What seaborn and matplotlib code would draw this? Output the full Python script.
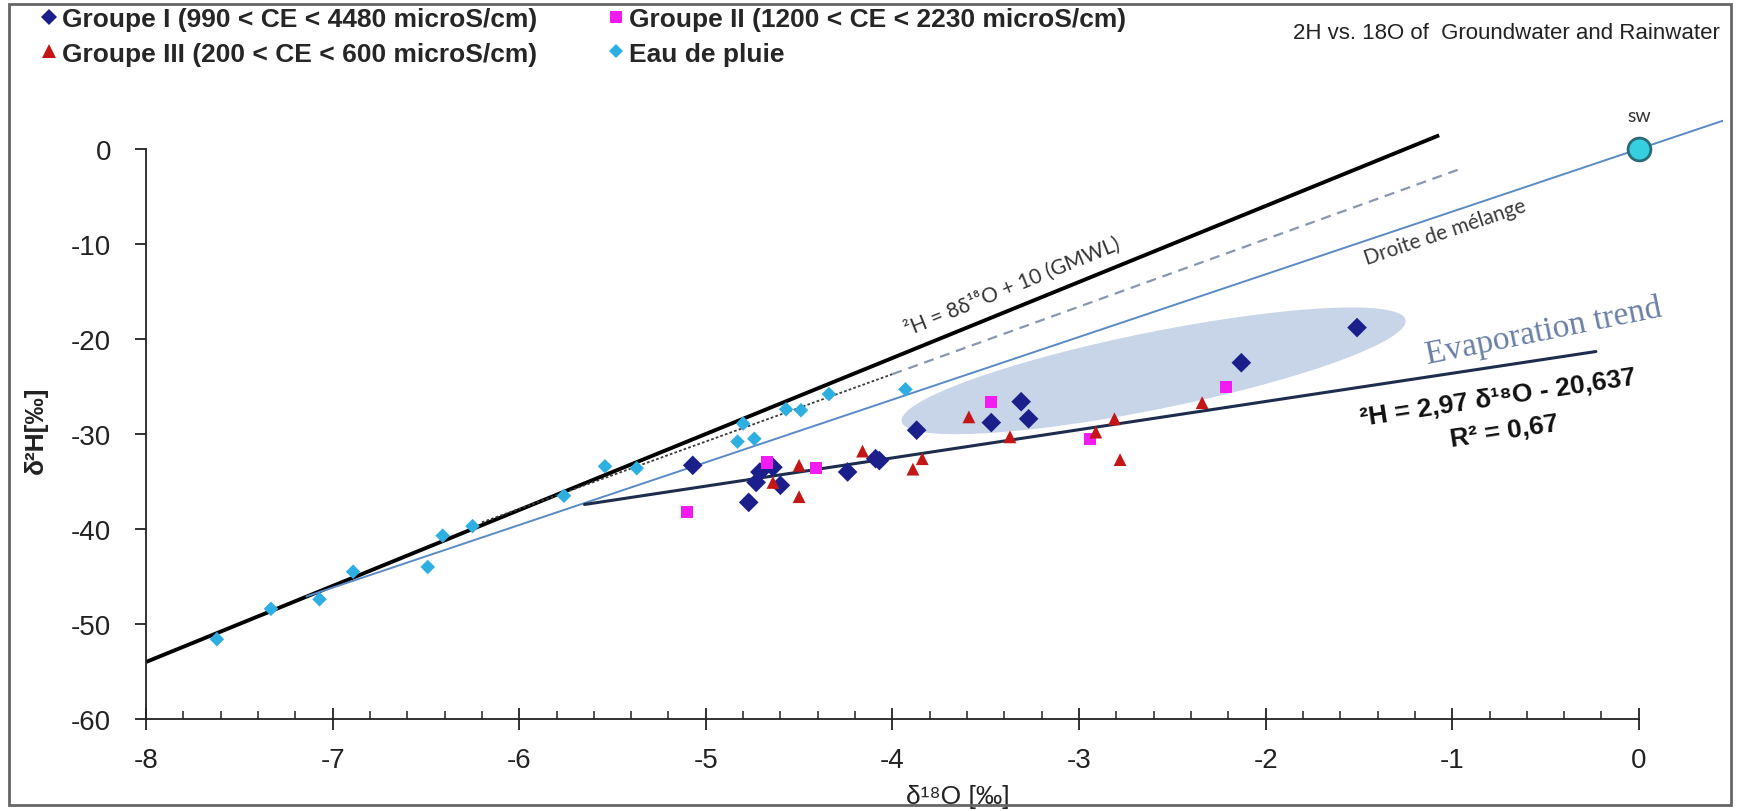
import numpy as np
import pandas as pd
import matplotlib
matplotlib.use("Agg")
import matplotlib.pyplot as plt
import seaborn as sns
from matplotlib import font_manager
from matplotlib.lines import Line2D
from matplotlib.patches import Polygon, Rectangle

# --- data (d18O, d2H in permil) ---
g1_x = [-5.07, -4.77, -4.73, -4.71, -4.64, -4.60, -4.24, -4.09, -4.07, -3.87, -3.47, -3.31, -3.27, -2.13, -1.51]
g1_y = [-33.3, -37.2, -35.1, -34.0, -33.5, -35.4, -34.0, -32.6, -32.8, -29.6, -28.8, -26.6, -28.4, -22.5, -18.8]

g2_x = [-5.10, -4.67, -4.41, -3.47, -2.94, -2.21]
g2_y = [-38.2, -33.0, -33.6, -26.6, -30.5, -25.1]

g3_x = [-4.64, -4.50, -4.50, -4.16, -3.89, -3.84, -3.59, -3.37, -2.91, -2.81, -2.78, -2.34]
g3_y = [-35.1, -33.3, -36.6, -31.8, -33.7, -32.6, -28.2, -30.3, -29.8, -28.4, -32.7, -26.7]

rain_x = [-7.62, -7.33, -7.07, -6.89, -6.49, -6.41, -6.25, -5.76, -5.54, -5.37,
          -4.83, -4.74, -4.80, -4.57, -4.49, -4.34, -3.93]
rain_y = [-51.6, -48.4, -47.4, -44.5, -44.0, -40.7, -39.7, -36.5, -33.4, -33.6,
          -30.8, -30.5, -28.9, -27.4, -27.5, -25.8, -25.3]

sw_x = [0.0]
sw_y = [0.0]

# reference lines (end points)
gmwl_x = [-8.0, -1.07]
gmwl_y = [-54.0, 1.44]
lmwl_dot_x = [-6.2, -4.0]
lmwl_dot_y = [-39.3, -23.7]
lmwl_dash_x = [-4.0, -0.95]
lmwl_dash_y = [-23.7, -2.05]
mix_x = [-7.14, 0.45]
mix_y = [-47.1, 2.97]
reg_x = [-5.65, -0.23]
reg_y = [-37.42, -21.32]
evap_zone_x = [-3.95, -1.25]
evap_zone_y = [-28.7, -18.0]

labels = {
    "g1": "Groupe I (990 < CE < 4480 microS/cm)",
    "g2": "Groupe II (1200 < CE < 2230 microS/cm)",
    "g3": "Groupe III (200 < CE < 600 microS/cm)",
    "rain": "Eau de pluie",
}

df = pd.concat([
    pd.DataFrame({"d18O": g1_x, "d2H": g1_y, "groupe": "g1"}),
    pd.DataFrame({"d18O": g2_x, "d2H": g2_y, "groupe": "g2"}),
    pd.DataFrame({"d18O": g3_x, "d2H": g3_y, "groupe": "g3"}),
    pd.DataFrame({"d18O": rain_x, "d2H": rain_y, "groupe": "rain"}),
], ignore_index=True)

colors = {"g1": "#1B1F8C", "g2": "#F21CF2", "g3": "#C41616", "rain": "#2DAFE2"}
markers = {"g1": "D", "g2": "s", "g3": "^", "rain": "D"}
sizes = {"g1": 100, "g2": 75, "g3": 85, "rain": 55}

sns.set_style("ticks")
plt.rcParams["font.family"] = ["Liberation Sans", "DejaVu Sans"]
plt.rcParams["axes.unicode_minus"] = False

names = {f.name for f in font_manager.fontManager.ttflist}
if "Liberation Sans Narrow" in names:
    eq_font, eq_size = ["Liberation Sans Narrow", "DejaVu Sans"], 23
else:
    eq_font, eq_size = ["Liberation Sans", "DejaVu Sans"], 19
calib = ["Lato", "DejaVu Sans"] if "Lato" in names else ["DejaVu Sans"]

fig = plt.figure(figsize=(17.4, 8.12), dpi=100)
ax = fig.add_axes([0.0839, 0.1133, 0.9062, 0.7605])
ax.set_xlim(-8, 0.45)
ax.set_ylim(-60, 5)

def screen_angle(xs, ys):
    p = ax.transData.transform(np.column_stack([xs, ys]))
    d = p[1] - p[0]
    return np.degrees(np.arctan2(d[1], d[0]))

# evaporation zone (ellipse drawn in screen space)
p0, p1 = ax.transData.transform(np.column_stack([evap_zone_x, evap_zone_y]))
c = (p0 + p1) / 2
u = (p1 - p0) / 2
a = np.hypot(*u)
u = u / a
v = np.array([-u[1], u[0]])
t = np.linspace(0, 2 * np.pi, 200)
pts = c + np.outer(a * np.cos(t), u) + np.outer(0.15 * a * np.sin(t), v)
ax.add_patch(Polygon(ax.transData.inverted().transform(pts), closed=True,
                     facecolor="#C8D4E8", edgecolor="none", zorder=1))

# lines
ax.plot(gmwl_x, gmwl_y, color="black", lw=2.8, zorder=2, solid_capstyle="butt")
ax.plot(lmwl_dot_x, lmwl_dot_y, color="#3a3a3a", lw=1.3, ls=(0, (1.5, 1.2)), zorder=2)
ax.plot(lmwl_dash_x, lmwl_dash_y, color="#8797AE", lw=1.6, ls=(0, (4.5, 3.1)), zorder=2)
ax.plot(mix_x, mix_y, color="#5A8AC6", lw=1.4, zorder=2)
ax.plot(reg_x, reg_y, color="#1E2D4E", lw=2.2, zorder=2)

# points
for g in ["g1", "g2", "g3", "rain"]:
    sns.scatterplot(data=df[df["groupe"] == g], x="d18O", y="d2H", color=colors[g],
                    marker=markers[g], s=sizes[g], edgecolor="none", ax=ax,
                    legend=False, zorder=3)

sns.scatterplot(x=sw_x, y=sw_y, s=270, color="#36CFE0", edgecolor="#2B6A78",
                linewidth=2, ax=ax, legend=False, zorder=4)
ax.text(sw_x[0], 2.6, "sw", ha="center", va="bottom", fontsize=14,
        family=calib, color="#333333")

# annotations
ax.text(-3.36, -14.4, "²H = 8δ¹⁸O + 10 (GMWL)", ha="center", va="center",
        rotation=screen_angle(gmwl_x, gmwl_y), rotation_mode="anchor",
        fontsize=15, family=calib, color="#333333")
ax.text(-1.04, -8.7, "Droite de mélange", ha="center", va="center",
        rotation=screen_angle(mix_x, mix_y), rotation_mode="anchor",
        fontsize=15, family=calib, color="#3a3a3a")
ax.text(-0.51, -19.1, "Evaporation trend", ha="center", va="center",
        rotation=11.5, rotation_mode="anchor", fontsize=24,
        family=["Liberation Serif", "DejaVu Serif"], color="#6B80A6")
reg_angle = screen_angle(reg_x, reg_y)
ax.text(-0.755, -26.1, "²H = 2,97 δ¹⁸O - 20,637", ha="center", va="center",
        rotation=reg_angle, rotation_mode="anchor", fontsize=eq_size,
        family=eq_font, weight="bold", color="#111111")
ax.text(-0.72, -29.65, "R² = 0,67", ha="center", va="center",
        rotation=reg_angle, rotation_mode="anchor", fontsize=eq_size,
        family=eq_font, weight="bold", color="#111111")

# axes styling
sns.despine(ax=ax)
ax.spines["left"].set_bounds(-60, 0)
ax.spines["bottom"].set_bounds(-8, 0)
for s in ["left", "bottom"]:
    ax.spines[s].set_linewidth(1.3)
    ax.spines[s].set_color("#222222")
ax.set_xticks(np.arange(-8, 1, 1))
ax.set_xticks(np.arange(-8, 0.01, 0.2), minor=True)
ax.set_yticks(np.arange(-60, 1, 10))
ax.tick_params(axis="x", which="major", direction="inout", length=16, width=1.3,
               pad=12, labelsize=20, colors="#222222")
ax.tick_params(axis="x", which="minor", direction="in", length=5.8, width=1.1,
               colors="#222222")
ax.tick_params(axis="y", which="major", direction="out", length=8, width=1.3,
               pad=17, labelsize=20, colors="#222222")
ax.set_xlabel("δ¹⁸O [‰]", fontsize=19, va="center", color="#222222")
ax.xaxis.set_label_coords(0.515, -0.125)
ax.set_ylabel("δ²H[‰]", fontsize=19, weight="bold", va="center", color="#222222")
ax.yaxis.set_label_coords(-0.07, 0.47)

# legend + title
handles = [Line2D([], [], ls="none", marker=markers[g], color=colors[g],
                  markersize=ms, markeredgewidth=0)
           for g, ms in [("g1", 8), ("g3", 10), ("g2", 8), ("rain", 7)]]
fig.legend(handles, [labels["g1"], labels["g3"], labels["g2"], labels["rain"]],
           loc="upper left", bbox_to_anchor=(0.023, 0.99), ncol=2, frameon=False,
           prop=dict(family=["Liberation Sans", "DejaVu Sans"], weight="bold", size=19),
           handlelength=0.7, handletextpad=0.15, columnspacing=2.6,
           labelspacing=0.4, borderaxespad=0, borderpad=0)
fig.text(0.9885, 0.959, "2H vs. 18O of  Groundwater and Rainwater", ha="right",
         va="center", fontsize=16, color="#222222")

fig.patches.append(Rectangle((0.0052, 0.0074), 0.9896, 0.9864, transform=fig.transFigure,
                             fill=False, edgecolor="#666666", lw=2))

fig.savefig("out.png", dpi=100)
